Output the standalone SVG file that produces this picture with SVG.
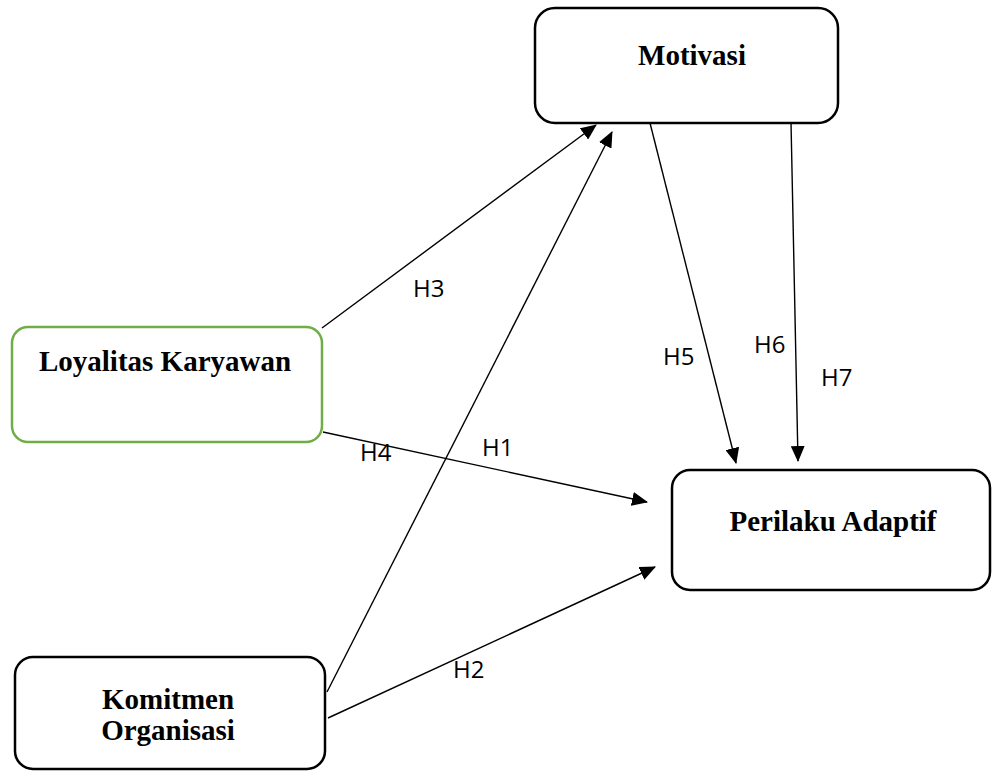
<svg xmlns="http://www.w3.org/2000/svg" width="992" height="771" viewBox="0 0 992 771">
<defs>
<style>
.box{fill:#fff;stroke:#000;stroke-width:2.5}
.green{stroke:#70AD47}
.t{font-family:"Liberation Serif","Times New Roman",serif;font-weight:bold;font-size:29px;text-anchor:middle;fill:#000}
.lbl{font-family:"Open Sans","Liberation Sans",sans-serif;font-size:24px;fill:#000}
.c{stroke:#000;stroke-width:1.4;fill:none;marker-end:url(#ah)}
</style>
<marker id="ah" markerUnits="userSpaceOnUse" markerWidth="16" markerHeight="14" refX="15" refY="7" orient="auto">
<path d="M0,0 L16,7 L0,14 z" fill="#000"/>
</marker>
</defs>
<rect width="992" height="771" fill="#fff"/>
<g id="motivasi">
<rect class="box" x="535" y="8" width="303" height="115" rx="20"/>
<text class="t" x="692" y="65">Motivasi</text>
</g>
<g id="loyalitas">
<rect class="box green" x="12" y="327" width="310" height="115" rx="16"/>
<text class="t" x="165" y="371">Loyalitas Karyawan</text>
</g>
<g id="komitmen">
<rect class="box" x="15" y="657" width="310" height="112" rx="18"/>
<text class="t" x="168" y="709">Komitmen</text>
<text class="t" x="168" y="740">Organisasi</text>
</g>
<g id="perilaku">
<rect class="box" x="672" y="470" width="318" height="120" rx="18"/>
<text class="t" x="833" y="531">Perilaku Adaptif</text>
</g>
<g id="connectors">
<line class="c" x1="322" y1="328" x2="596" y2="125"/>
<line class="c" x1="327" y1="692" x2="612" y2="132"/>
<line class="c" x1="323" y1="432" x2="647" y2="502"/>
<line class="c" x1="328" y1="718" x2="655" y2="567"/>
<line class="c" x1="650" y1="123" x2="736" y2="463"/>
<line class="c" x1="791" y1="122" x2="798" y2="461"/>
</g>
<g id="labels">
<text class="lbl" x="413" y="297">H3</text>
<text class="lbl" x="663" y="365">H5</text>
<text class="lbl" x="754" y="353">H6</text>
<text class="lbl" x="821" y="386">H7</text>
<text class="lbl" x="482" y="456">H1</text>
<text class="lbl" x="360" y="461">H4</text>
<text class="lbl" x="453" y="678">H2</text>
</g>
</svg>
